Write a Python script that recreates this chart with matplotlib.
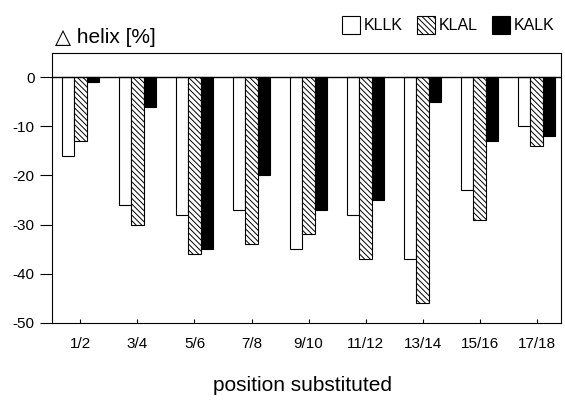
import matplotlib.pyplot as plt
import numpy as np

plt.rcParams['font.family'] = ['Liberation Sans', 'DejaVu Sans']
plt.rcParams['hatch.linewidth'] = 0.7
plt.rcParams['axes.unicode_minus'] = False

positions = ['1/2', '3/4', '5/6', '7/8', '9/10', '11/12', '13/14', '15/16', '17/18']
kllk = [-16, -26, -28, -27, -35, -28, -37, -23, -10]
klal = [-13, -30, -36, -34, -32, -37, -46, -29, -14]
kalk = [-1, -6, -35, -20, -27, -25, -5, -13, -12]

fig = plt.figure(figsize=(5.65, 4.15), dpi=100)
ax = fig.add_axes([0.092, 0.222, 0.901, 0.650])

x = np.arange(len(positions))
w = 0.22
ax.bar(x - w, kllk, w, color='white', edgecolor='black', linewidth=0.8, label='KLLK')
ax.bar(x, klal, w, color='white', edgecolor='black', linewidth=0.8, hatch='\\\\\\\\\\\\', label='KLAL')
ax.bar(x + w, kalk, w, color='black', edgecolor='black', linewidth=0.8, label='KALK')

ax.axhline(0, color='black', linewidth=1.0)
ax.set_xlim(-0.5, 8.43)
ax.set_ylim(-50, 4.9)
ax.set_yticks([0, -10, -20, -30, -40, -50])
ax.set_xticks(x)
ax.set_xticklabels(positions)
ax.tick_params(axis='y', direction='out', length=9, width=0.8, labelsize=11)
ax.tick_params(axis='x', direction='in', length=3, width=0.8, labelsize=11, pad=10)
for s in ax.spines.values():
    s.set_linewidth(0.8)

fig.text(0.097, 0.91, '\u25b3 helix [%]', fontsize=15, va='center', ha='left')
fig.text(0.535, 0.07, 'position substituted', fontsize=15, ha='center', va='center')

ax.legend(ncol=3, frameon=False, loc='center right', bbox_to_anchor=(1.0, 1.105),
          handlelength=1.1, handleheight=1.3, handletextpad=0.25, columnspacing=0.9,
          fontsize=11.5, borderaxespad=0)

fig.savefig('out.png', dpi=100)
